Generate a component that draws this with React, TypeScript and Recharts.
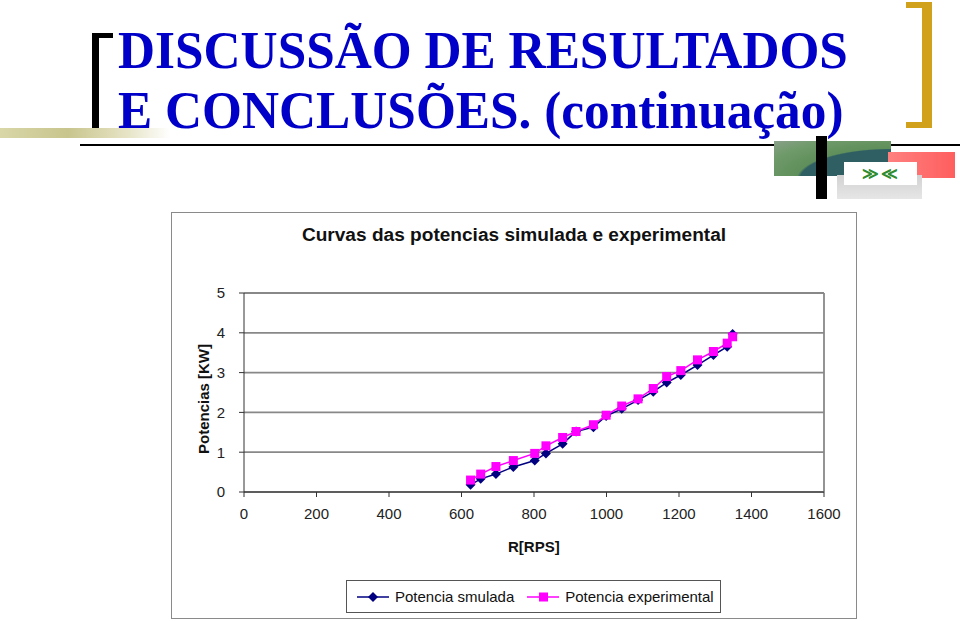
import React from "react";
import { LineChart, Line, XAxis, YAxis, CartesianGrid, ReferenceLine } from "recharts";

// rotation speed readings and both power curves
const rps = [625, 653, 695, 743, 802, 833, 879, 916, 964, 999, 1042, 1087, 1129, 1166, 1205, 1251, 1295, 1333, 1348];
const simulada = [0.18, 0.33, 0.45, 0.63, 0.79, 0.97, 1.21, 1.52, 1.63, 1.91, 2.09, 2.31, 2.52, 2.75, 2.94, 3.19, 3.44, 3.65, 3.97];
const experimental = [0.3, 0.45, 0.64, 0.79, 0.97, 1.16, 1.37, 1.52, 1.69, 1.93, 2.16, 2.34, 2.6, 2.9, 3.05, 3.32, 3.53, 3.74, 3.9];

const xTicks = [0, 200, 400, 600, 800, 1000, 1200, 1400, 1600];
const yTicks = [0, 1, 2, 3, 4, 5];

const data = rps.map((r, i) => ({ rps: r, sim: simulada[i], exp: experimental[i] }));

const NAVY = "#000080";
const MAGENTA = "#FF00FF";
const FONT = "'Liberation Sans', Arial, sans-serif";

const Diamond = (props: any) => {
  const { cx, cy } = props;
  if (cx == null || cy == null) return null;
  const r = 5;
  return <polygon points={`${cx},${cy - r} ${cx + r},${cy} ${cx},${cy + r} ${cx - r},${cy}`} fill={NAVY} />;
};

const Square = (props: any) => {
  const { cx, cy } = props;
  if (cx == null || cy == null) return null;
  return <rect x={cx - 4.5} y={cy - 4.5} width={9} height={9} fill={MAGENTA} />;
};

const abs = (s: React.CSSProperties): React.CSSProperties => ({ position: "absolute", ...s });

function SlideDecor() {
  return (
    <>
      {/* left black bracket */}
      <div style={abs({ left: 92, top: 33, width: 7, height: 102, background: "#000" })} />
      <div style={abs({ left: 92, top: 33, width: 21, height: 5, background: "#000" })} />
      {/* khaki bar */}
      <div style={abs({ left: 0, top: 128, width: 170, height: 10, background: "linear-gradient(90deg, #d9d6a8 0%, #c9c58e 40%, #e6e4c6 75%, #ffffff 100%)" })} />
      {/* rule */}
      <div style={abs({ left: 80, top: 144, width: 880, height: 2, background: "#000" })} />
      {/* gold bracket */}
      <div style={abs({ left: 922, top: 2, width: 10, height: 126, background: "#d2a11c" })} />
      <div style={abs({ left: 906, top: 2, width: 26, height: 6, background: "#d2a11c" })} />
      <div style={abs({ left: 906, top: 122, width: 26, height: 6, background: "#d2a11c" })} />
      {/* logo blocks */}
      <div style={abs({ left: 774, top: 141, width: 117, height: 35, background: "radial-gradient(ellipse at 100% 110%, #2f5f62 0%, #2f5f62 55%, #5f8f5a 57%, #6f9a6a 80%, #8aa08a 100%)" })} />
      <div style={abs({ left: 888, top: 152, width: 67, height: 26, background: "linear-gradient(90deg, #ff8080 0%, #ff5e5e 100%)" })} />
      <div style={abs({ left: 837, top: 175, width: 85, height: 24, background: "linear-gradient(180deg, #d2d2d2 0%, #e6e6e6 100%)" })} />
      <div style={abs({ left: 844, top: 162, width: 73, height: 23, background: "#fff", color: "#2e8b2e", fontFamily: FONT, fontSize: 16, fontWeight: 700, textAlign: "center", lineHeight: "23px", letterSpacing: 2 })}>≫≪</div>
      <div style={abs({ left: 816, top: 136, width: 11, height: 63, background: "#000" })} />
      {/* title */}
      <div
        style={abs({
          left: 118,
          top: 20,
          fontFamily: "'Liberation Serif', 'Times New Roman', serif",
          fontWeight: 700,
          fontSize: 53,
          lineHeight: "60px",
          color: "#0000c8",
          whiteSpace: "nowrap",
          transform: "scaleX(0.968)",
          transformOrigin: "left top",
        })}
      >
        DISCUSSÃO DE RESULTADOS
        <br />E CONCLUSÕES. (continuação)
      </div>
    </>
  );
}

export default function App() {
  return (
    <div style={abs({ left: 0, top: 0, width: 960, height: 621, background: "#fff", overflow: "hidden" })}>
      <SlideDecor />
      <div style={abs({ left: 171, top: 212, width: 686, height: 407, border: "1px solid #8a8a8a", boxSizing: "border-box", background: "#fff" })}>
        <div style={abs({ left: 0, top: 12, width: 684, textAlign: "center", fontFamily: FONT, fontSize: 18, fontWeight: 700, color: "#111", transform: "scaleX(1.06)" })}>
          Curvas das potencias simulada e experimental
        </div>
        <div
          style={abs({
            left: 31,
            top: 186,
            fontFamily: FONT,
            fontSize: 15,
            fontWeight: 700,
            color: "#111",
            whiteSpace: "nowrap",
            transform: "translate(-50%, -50%) rotate(-90deg)",
          })}
        >
          Potencias [KW]
        </div>
        <div style={abs({ left: 336, top: 325, fontFamily: FONT, fontSize: 15, fontWeight: 700, color: "#111" })}>R[RPS]</div>
        <LineChart width={684} height={405} data={data} margin={{ top: 80, right: 32, left: 32, bottom: 96 }}>
          <CartesianGrid horizontal vertical={false} stroke="#888" strokeWidth={1.8} />
          <ReferenceLine x={1600} stroke="#888" strokeWidth={1.8} />
          <XAxis
            dataKey="rps"
            type="number"
            domain={[0, 1600]}
            ticks={xTicks}
            height={30}
            tickSize={5}
            tickMargin={11}
            stroke="#333"
            tick={{ fontSize: 15, fontFamily: FONT, fill: "#222" }}
          />
          <YAxis
            type="number"
            domain={[0, 5]}
            ticks={yTicks}
            width={40}
            tickSize={5}
            tickMargin={14}
            stroke="#333"
            tick={{ fontSize: 15, fontFamily: FONT, fill: "#222" }}
          />
          <Line dataKey="sim" stroke={NAVY} strokeWidth={1.5} dot={<Diamond />} isAnimationActive={false} />
          <Line dataKey="exp" stroke={MAGENTA} strokeWidth={1.5} dot={<Square />} isAnimationActive={false} />
        </LineChart>
        <div style={abs({ left: 174, top: 367, width: 375, height: 33, border: "1px solid #555", boxSizing: "border-box", display: "flex", alignItems: "center", fontFamily: FONT, fontSize: 15, color: "#111", whiteSpace: "nowrap" })}>
          <svg width={34} height={12} style={{ marginLeft: 9 }}>
            <line x1={1} y1={6} x2={33} y2={6} stroke={NAVY} strokeWidth={1.5} />
            <polygon points="17,1 22,6 17,11 12,6" fill={NAVY} />
          </svg>
          <span style={{ marginLeft: 5 }}>Potencia smulada</span>
          <svg width={34} height={12} style={{ marginLeft: 12 }}>
            <line x1={1} y1={6} x2={33} y2={6} stroke={MAGENTA} strokeWidth={1.5} />
            <rect x={13} y={1.5} width={9} height={9} fill={MAGENTA} />
          </svg>
          <span style={{ marginLeft: 5 }}>Potencia experimental</span>
        </div>
      </div>
    </div>
  );
}
